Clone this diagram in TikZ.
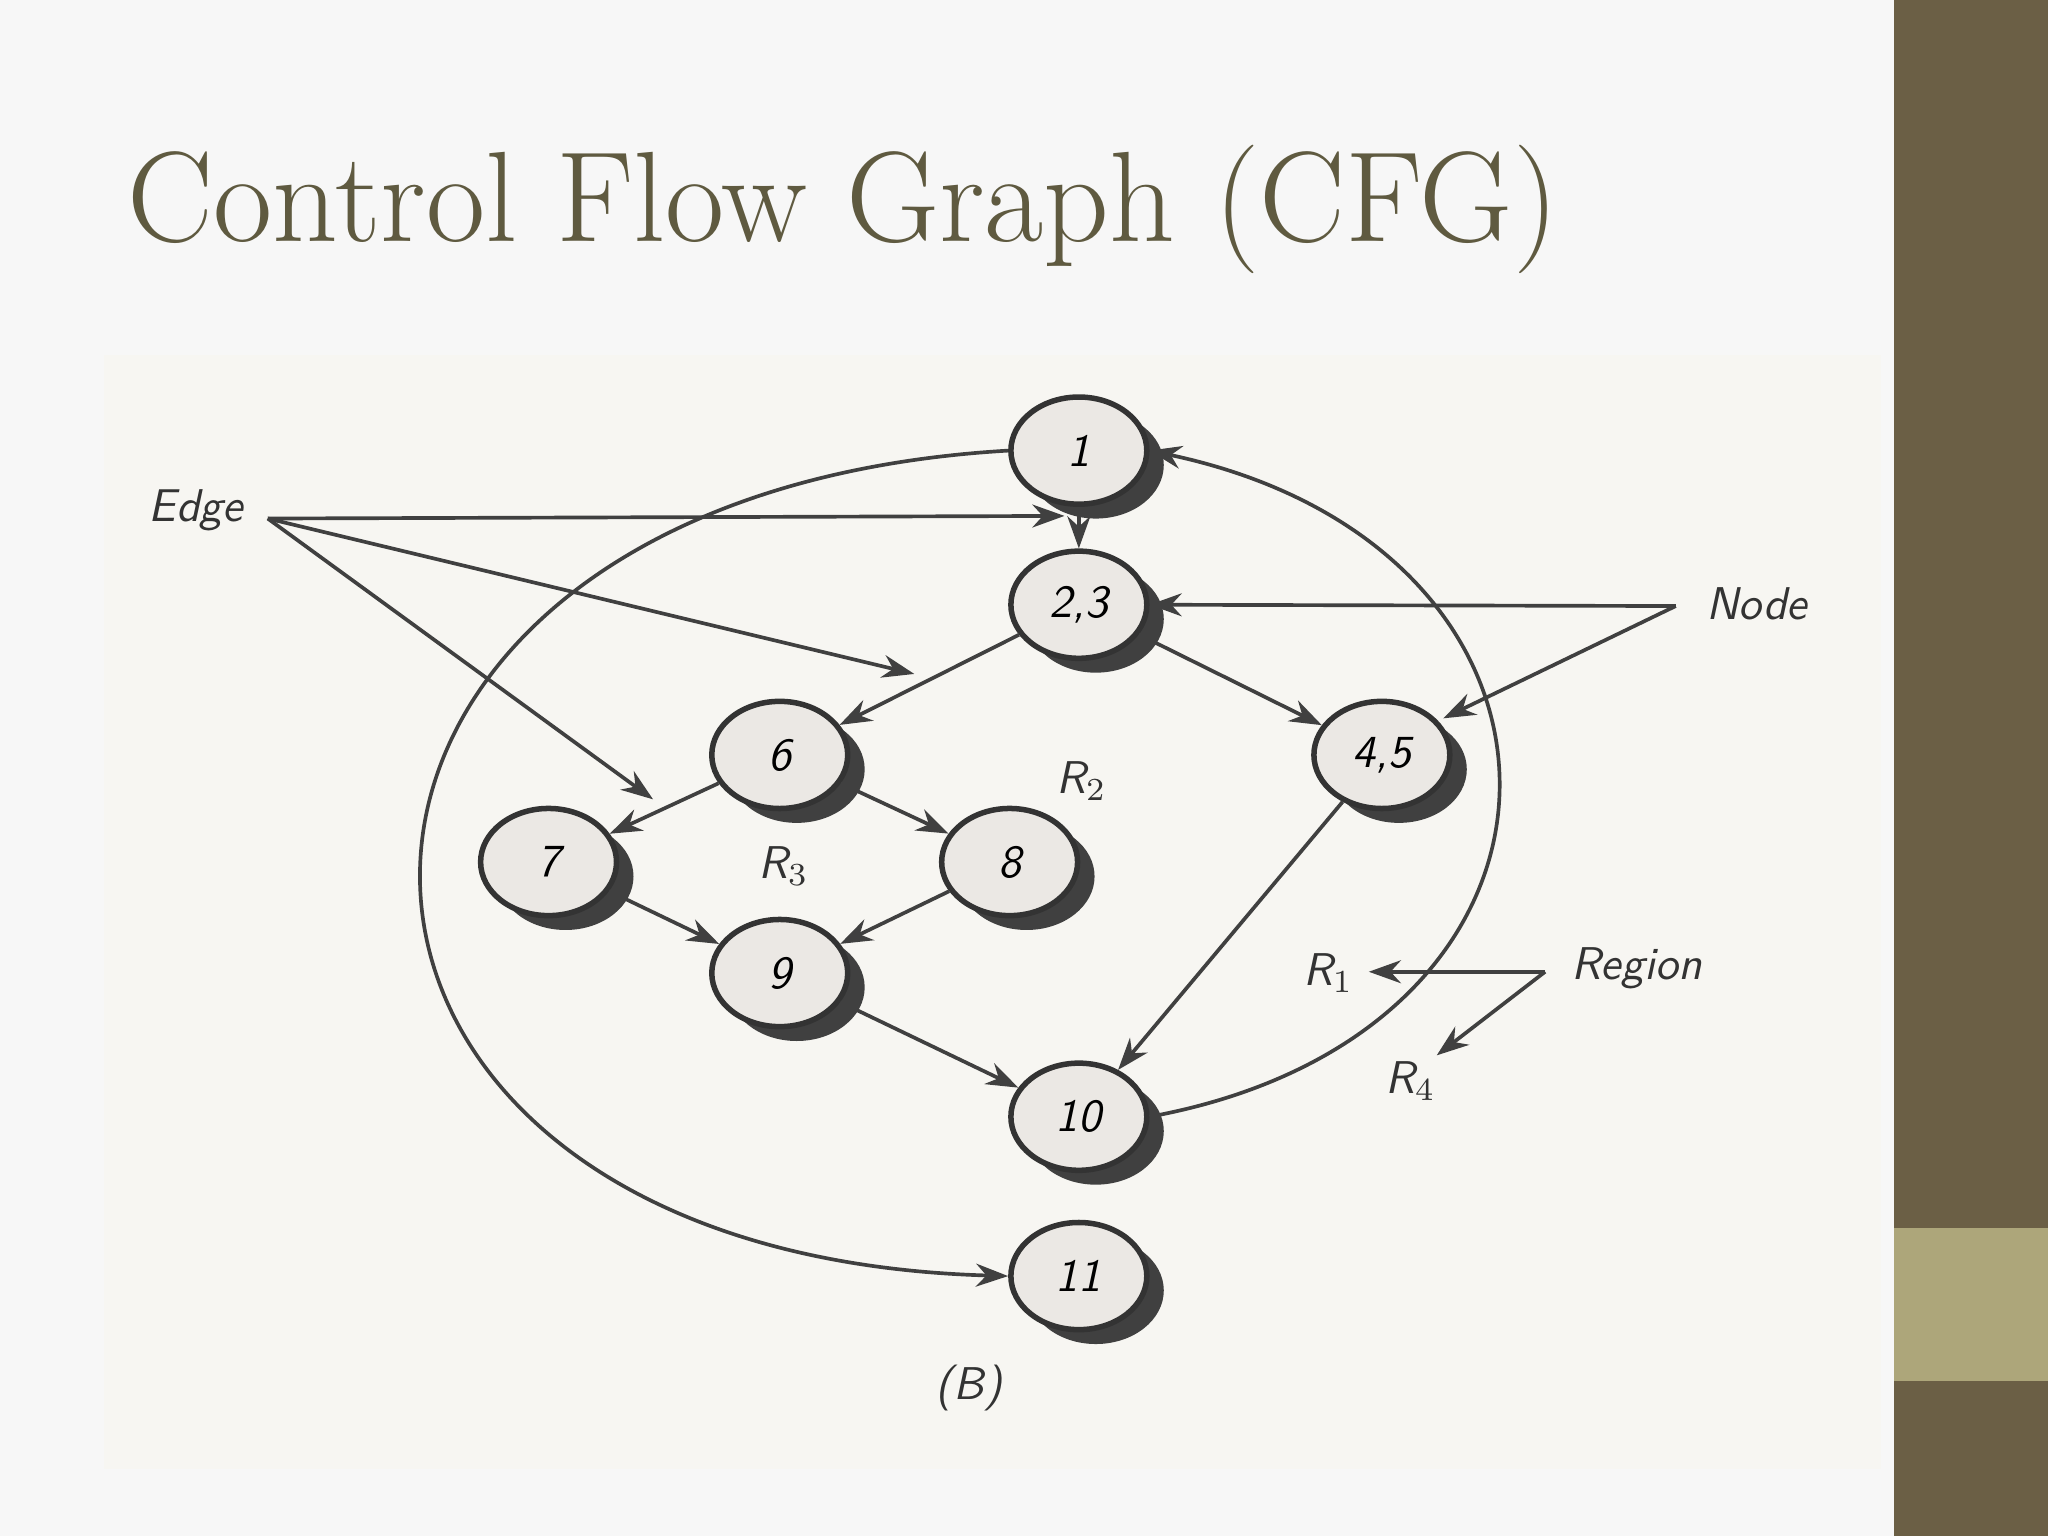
\documentclass[tikz,border=0pt]{standalone}
\usetikzlibrary{shapes.geometric,arrows.meta}
\definecolor{olive}{HTML}{6B5F45}
\definecolor{lightolive}{HTML}{ADA67A}
\definecolor{titlec}{HTML}{5F5A40}
\definecolor{panel}{HTML}{F7F6F2}
\definecolor{nodefill}{HTML}{EBE8E4}
\tikzset{
 cfg/.style={ellipse,draw=black!80,line width=1.2pt,fill=nodefill,minimum width=1.04cm,minimum height=0.82cm,font=\sffamily\itshape,inner sep=0pt},
 shadowell/.style={ellipse,fill=black!75,minimum width=1.04cm,minimum height=0.82cm},
 edge/.style={draw=black!75,line width=0.8pt,-{Stealth[length=7pt,width=5pt]}},
 lbl/.style={font=\sffamily\itshape,text=black!80},
}
\begin{document}
\begin{tikzpicture}[x=0.01cm,y=-0.01cm]
\useasboundingbox (0,0) rectangle (1568,1176);
\fill[white!94!gray] (0,0) rectangle (1568,1176);
\fill[olive] (1450,0) rectangle (1568,1176);
\fill[lightolive] (1450,940) rectangle (1568,1057);
\node[anchor=base west,text=titlec,font=\fontsize{28}{32}\selectfont,inner sep=0] (title) at (97,185) {Control Flow Graph (CFG)};
\fill[panel] (80,272) rectangle (1440,1125);
% shadows
\foreach \px/\py in {826/345,826/463,597/578,1058/578,420/660,773/660,597/745,826/855,826/977}
  \node[shadowell] at (\px+13,\py+11) {};
\node[cfg] (n1) at (826,345) {1};
\node[cfg] (n23) at (826,463) {2,3};
\node[cfg] (n6) at (597,578) {6};
\node[cfg] (n45) at (1058,578) {4,5};
\node[cfg] (n7) at (420,660) {7};
\node[cfg] (n8) at (773,660) {8};
\node[cfg] (n9) at (597,745) {9};
\node[cfg] (n10) at (826,855) {10};
\node[cfg] (n11) at (826,977) {11};
\draw[edge] (n1) -- (n23);
\draw[edge] (n23) -- (n6);
\draw[edge] (n23) -- (n45);
\draw[edge] (n6) -- (n7);
\draw[edge] (n6) -- (n8);
\draw[edge] (n7) -- (n9);
\draw[edge] (n8) -- (n9);
\draw[edge] (n9) -- (n10);
\draw[edge] (n45) -- (n10);
\draw[edge] (n10.east) .. controls (1235,790) and (1235,420) .. (n1.east);
\draw[edge] (n1.west) .. controls (174,380) and (174,960) .. (n11.west);
% labels
\node[lbl] (edge) at (150,391) {Edge};
\coordinate (e0) at (205,397);
\coordinate (e1) at (815,395);
\coordinate (e2) at (700,516);
\coordinate (e3) at (500,612);
\draw[edge] (e0) -- (e1);
\draw[edge] (e0) -- (e2);
\draw[edge] (e0) -- (e3);
\node[lbl] (node) at (1345,462) {Node};
\coordinate (k0) at (1283,464);
\draw[edge] (k0) -- (n23.east);
\coordinate (k2) at (1105,550);
\draw[edge] (k0) -- (k2);
\node[lbl] (region) at (1253,741) {Region};
\coordinate (r0) at (1183,744);
\coordinate (r1) at (1048,744);
\coordinate (r2) at (1100,808);
\draw[edge] (r0) -- (r1);
\draw[edge] (r0) -- (r2);
\node[lbl] (R1) at (1017,745) {R$_1$};
\node[lbl] (R4) at (1080,828) {R$_4$};
\node[lbl] (R2) at (828,598) {R$_2$};
\node[lbl] (R3) at (600,663) {R$_3$};
\node[lbl] (B) at (742,1063) {(B)};
\end{tikzpicture}
\end{document}
